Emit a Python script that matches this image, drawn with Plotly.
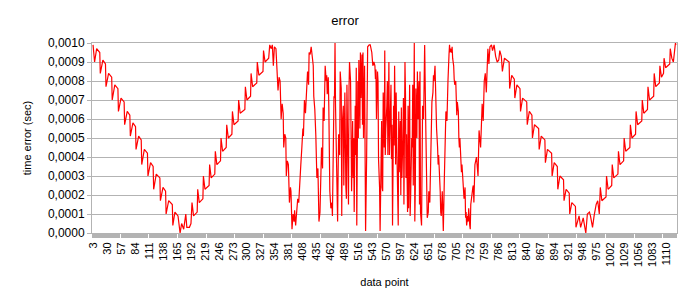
import plotly.graph_objects as go

# Vertices of the error trace (data point index, time error in seconds)
point_index = [
    3, 6, 10, 16, 17, 22, 27, 28, 33, 39, 40, 45, 51, 52, 57, 63, 64, 69, 74, 75, 80, 85, 86, 91, 96, 97,
    102, 108, 109, 114, 119, 120, 125, 132, 133, 138, 143, 144, 149, 156, 157, 161, 167, 171, 174, 178,
    182, 184, 189, 192,
    194, 197, 204, 205, 208, 215, 216, 219, 227, 228, 231, 238, 239, 242, 249, 250, 253, 260, 261, 264,
    271, 272, 275, 283, 284, 287, 296, 297, 300, 307, 308, 311, 319, 320, 323, 331, 332, 335, 342, 344,
    347, 349, 351, 353, 356,
    358, 360, 362, 364, 366, 368, 370, 371, 373, 375, 376, 378, 380, 382, 384, 385, 387, 389, 391, 392,
    394, 396, 398, 400, 402, 404, 406, 408, 409, 411, 413, 415, 417, 419, 420, 422, 424, 426, 428, 429,
    431, 433, 435, 437, 439, 441,
    444, 446, 447, 449, 451, 453, 454, 455, 457, 458, 459, 460, 462, 464, 465, 466, 468, 469, 470, 471,
    473, 475, 476, 477, 479, 480, 482, 483, 484, 486, 487, 488, 489, 491, 492, 493, 495, 496, 497, 498,
    500, 501, 502, 504, 505, 506, 507, 509, 510, 511, 512, 514, 515, 516, 518, 519, 520, 522, 523, 524,
    525, 527, 528, 529, 531, 532, 533, 536, 538,
    541, 543, 545, 547, 548, 549, 550, 552, 553, 554, 556, 557, 558, 560, 561, 562, 563, 565, 566, 567,
    568, 570, 571, 572, 574, 575, 576, 578, 579, 580, 581, 583, 584, 585, 587, 588, 589, 591, 592, 593,
    594, 596, 597, 598, 599, 601, 602, 603, 605, 606, 607, 608, 610, 611, 612, 614, 615, 616, 618, 619,
    620, 621, 623, 624, 625, 626, 628, 629, 630, 632, 633, 634, 635, 637, 638, 639, 641,
    642, 643, 645, 646, 647, 648, 650, 651, 653, 655, 656, 657, 659, 660, 661, 663, 664, 665, 666, 668,
    669, 670, 672, 673, 674, 675, 677, 678, 679, 681, 682, 683, 684, 686, 687, 688, 690, 691, 692, 693,
    695, 696, 697, 699, 700, 701, 703, 704, 705, 706, 708, 709, 710, 711, 713, 714, 715, 717, 718, 719,
    721, 722, 723, 724, 726, 727, 728, 730, 731, 732, 733, 735, 736, 737,
    738, 740, 743, 746, 748, 751, 754, 756, 758, 760, 762, 765, 767, 769, 772, 774, 777, 780,
    783, 786, 788, 791, 793, 797, 806, 807, 811, 816, 817, 821, 827, 828, 832, 840, 841, 845, 850, 851,
    855, 863, 864, 868, 875, 876, 880, 888, 889, 893, 899, 900, 904, 911, 912, 916, 922, 923, 927, 934,
    935, 941, 944, 949, 954, 957, 961, 963, 967, 970, 974, 977, 980,
    982, 985, 993, 994, 997, 1004, 1005, 1008, 1016, 1017, 1020, 1027, 1028, 1031, 1039, 1040, 1043,
    1050, 1051, 1054, 1062, 1063, 1066, 1073, 1074, 1077, 1085, 1086, 1089, 1096, 1097, 1100, 1104,
    1105, 1108, 1116, 1117, 1120, 1123, 1127, 1128,
]

time_error = [
    0.00099, 0.00090, 0.00097, 0.00095, 0.00084, 0.00091, 0.00089, 0.00077, 0.00084, 0.00082, 0.00070,
    0.00078, 0.00076, 0.00064, 0.00071, 0.00069, 0.00057, 0.00064, 0.00062, 0.00051, 0.00058, 0.00056,
    0.00044, 0.00051, 0.00049, 0.00036, 0.00044, 0.00042, 0.00030, 0.00037, 0.00035, 0.00023, 0.00031,
    0.00029, 0.00017, 0.00024, 0.00022, 0.00010, 0.00017, 0.00015, 0.00004, 0.00011, 0.00009, 0.00000,
    0.00005, 0.00002, 0.00010, 0.00003, 0.00003, 0.00005,
    0.00016, 0.00009, 0.00011, 0.00023, 0.00016, 0.00018, 0.00030, 0.00023, 0.00025, 0.00036, 0.00029,
    0.00031, 0.00043, 0.00036, 0.00038, 0.00050, 0.00043, 0.00045, 0.00057, 0.00050, 0.00052, 0.00064,
    0.00057, 0.00059, 0.00070, 0.00063, 0.00065, 0.00077, 0.00070, 0.00072, 0.00084, 0.00077, 0.00079,
    0.00090, 0.00083, 0.00085, 0.00096, 0.00090, 0.00092, 0.00099, 0.00097, 0.00099, 0.00088, 0.00098,
    0.00097,
    0.00088, 0.00075, 0.00082, 0.00080, 0.00060, 0.00068, 0.00063, 0.00045, 0.00052, 0.00050, 0.00030,
    0.00038, 0.00036, 0.00016, 0.00024, 0.00022, 0.00002, 0.00010, 0.00006, 0.00012, 0.00004, 0.00011,
    0.00018, 0.00016, 0.00029, 0.00036, 0.00045, 0.00055, 0.00051, 0.00070, 0.00063, 0.00080, 0.00085,
    0.00078, 0.00095, 0.00094, 0.00098, 0.00093, 0.00088, 0.00072, 0.00065, 0.00051, 0.00029, 0.00034,
    0.00006, 0.00011,
    0.00045, 0.00034, 0.00066, 0.00059, 0.00088, 0.00080, 0.00083, 0.00073, 0.00082, 0.00067, 0.00050,
    0.00022, 0.00013, 0.00016, 0.00009, 0.00043, 0.00072, 0.00071, 0.00100, 0.00067, 0.00029, 0.00006,
    0.00032, 0.00052, 0.00041, 0.00085, 0.00076, 0.00009, 0.00057, 0.00067, 0.00025, 0.00073, 0.00074,
    0.00024, 0.00018, 0.00078, 0.00036, 0.00015, 0.00076, 0.00090, 0.00080, 0.00032, 0.00022, 0.00059,
    0.00029, 0.00050, 0.00011, 0.00067, 0.00041, 0.00087, 0.00004, 0.00080, 0.00050, 0.00091, 0.00055,
    0.00095, 0.00071, 0.00094, 0.00057, 0.00095, 0.00050, 0.00088, 0.00034, 0.00001, 0.00039, 0.00090,
    0.00098, 0.00099, 0.00099,
    0.00095, 0.00088, 0.00090, 0.00088, 0.00081, 0.00086, 0.00060, 0.00085, 0.00080, 0.00039, 0.00024,
    0.00001, 0.00020, 0.00059, 0.00024, 0.00022, 0.00074, 0.00045, 0.00096, 0.00041, 0.00055, 0.00067,
    0.00080, 0.00041, 0.00090, 0.00041, 0.00059, 0.00078, 0.00039, 0.00057, 0.00004, 0.00067, 0.00046,
    0.00088, 0.00036, 0.00074, 0.00050, 0.00025, 0.00004, 0.00064, 0.00032, 0.00059, 0.00020, 0.00066,
    0.00029, 0.00050, 0.00071, 0.00015, 0.00090, 0.00073, 0.00029, 0.00052, 0.00011, 0.00067, 0.00013,
    0.00078, 0.00009, 0.00020, 0.00050, 0.00045, 0.00078, 0.00025, 0.00100, 0.00006, 0.00024, 0.00076,
    0.00050, 0.00085, 0.00060, 0.00080, 0.00015, 0.00085, 0.00011, 0.00004, 0.00032, 0.00067, 0.00060,
    0.00099, 0.00099, 0.00059, 0.00032, 0.00015, 0.00008, 0.00011, 0.00022, 0.00016, 0.00050, 0.00045,
    0.00069, 0.00074, 0.00083, 0.00080, 0.00088, 0.00067, 0.00059, 0.00055, 0.00045, 0.00036, 0.00041,
    0.00032, 0.00022, 0.00011, 0.00009, 0.00022, 0.00011, 0.00001, 0.00029, 0.00039, 0.00050, 0.00064,
    0.00059, 0.00076, 0.00080, 0.00094, 0.00099, 0.00095, 0.00097, 0.00095, 0.00098, 0.00092, 0.00088,
    0.00081, 0.00078, 0.00080, 0.00074, 0.00062, 0.00069, 0.00064, 0.00050, 0.00045, 0.00050, 0.00039,
    0.00032, 0.00036, 0.00029, 0.00022, 0.00018, 0.00024, 0.00008, 0.00011, 0.00004, 0.00009, 0.00006,
    0.00013, 0.00004, 0.00002, 0.00015, 0.00018, 0.00022, 0.00024, 0.00025,
    0.00016, 0.00036, 0.00040, 0.00030, 0.00054, 0.00045, 0.00068, 0.00059, 0.00080, 0.00084, 0.00074,
    0.00097, 0.00089, 0.00098, 0.00099, 0.00096, 0.00099, 0.00093,
    0.00090, 0.00091, 0.00096, 0.00093, 0.00085, 0.00092, 0.00090, 0.00076, 0.00083, 0.00081, 0.00071,
    0.00078, 0.00076, 0.00064, 0.00071, 0.00069, 0.00057, 0.00064, 0.00062, 0.00050, 0.00057, 0.00055,
    0.00044, 0.00051, 0.00049, 0.00037, 0.00044, 0.00042, 0.00030, 0.00037, 0.00035, 0.00023, 0.00030,
    0.00028, 0.00017, 0.00023, 0.00021, 0.00010, 0.00016, 0.00014,
    0.00003, 0.00009, 0.00003, 0.00008, 0.00000, 0.00010, 0.00011, 0.00009, 0.00003, 0.00009, 0.00015,
    0.00017, 0.00010,
    0.00024, 0.00017, 0.00019, 0.00030, 0.00023, 0.00025, 0.00036, 0.00029, 0.00031, 0.00043, 0.00036,
    0.00038, 0.00050, 0.00043, 0.00045, 0.00057, 0.00050, 0.00052, 0.00064, 0.00057, 0.00059, 0.00070,
    0.00063, 0.00065, 0.00077, 0.00070, 0.00072, 0.00084, 0.00077, 0.00079, 0.00088, 0.00082, 0.00084,
    0.00092, 0.00087, 0.00089, 0.00097, 0.00092, 0.00090, 0.00100, 0.00099,
]

x_tick_values = list(range(3, 1111, 27))
x_tick_labels = [str(v) for v in x_tick_values]
y_tick_values = [0.0000, 0.0001, 0.0002, 0.0003, 0.0004, 0.0005, 0.0006, 0.0007, 0.0008, 0.0009, 0.0010]

title_text = "error"
x_title = "data point"
y_title = "time error (sec)"

grid = "#b3b3b3"

fig = go.Figure()
fig.add_trace(go.Scatter(
    x=point_index, y=time_error, mode="lines",
    line=dict(color="#ff0000", width=1.2),
    hoverinfo="x+y",
))

fig.update_layout(
    width=690, height=307,
    margin=dict(l=92, r=13, t=43, b=74),
    paper_bgcolor="white", plot_bgcolor="white",
    font=dict(family="Liberation Sans, Arial, sans-serif", size=11, color="black"),
    separators=",.",
    showlegend=False,
    title=dict(text=title_text, x=0.5, xanchor="center", xref="paper",
               y=1 - 20 / 307, yanchor="middle", yref="container",
               font=dict(size=13, color="black")),
)
fig.update_layout(title_xref="container")

fig.update_xaxes(
    range=[1, 1130], tickmode="array", tickvals=x_tick_values, ticktext=x_tick_labels,
    tickangle=-90, ticks="outside", ticklen=4, tickcolor=grid, tickwidth=1,
    tickfont=dict(size=11, color="black"),
    minor=dict(tick0=1, dtick=2, ticks="outside", ticklen=4, tickcolor=grid, tickwidth=1, showgrid=False),
    showgrid=False, zeroline=False, showline=True, linecolor=grid, linewidth=1, mirror=True,
    title=dict(text=x_title, font=dict(size=11, color="black"), standoff=12),
    automargin=False,
)
fig.update_yaxes(
    range=[0, 0.001], tickmode="array", tickvals=y_tick_values, tickformat=".4f",
    ticks="outside", ticklen=4, tickcolor=grid, tickwidth=1,
    tickfont=dict(size=12, color="black"),
    showgrid=True, gridcolor=grid, gridwidth=1, zeroline=False,
    showline=True, linecolor=grid, linewidth=1, mirror=True,
    title=dict(text=y_title, font=dict(size=11, color="black"), standoff=14),
    automargin=False,
)

assert len(point_index) == len(time_error)
fig.write_html("out.html")
